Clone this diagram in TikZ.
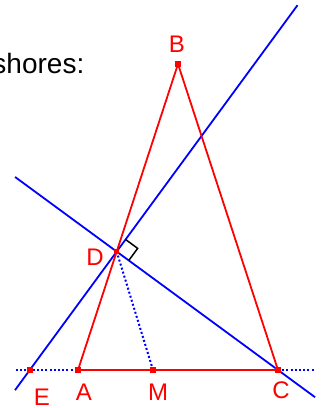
\documentclass[tikz,border=0pt]{standalone}
\usepackage{fontspec}
\setmainfont{Liberation Sans}
\usetikzlibrary{calc}
\definecolor{myred}{RGB}{255,0,0}
\definecolor{myblue}{RGB}{0,0,255}
\begin{document}
\begin{tikzpicture}[x=1pt,y=-1pt,
  seg/.style={myred,line width=1.8pt},
  bline/.style={myblue,line width=1.8pt},
  dots/.style={myblue,line width=2pt,dash pattern=on 2pt off 2.2pt},
  pt/.style={fill=myred,inner sep=0pt,minimum size=5.5pt,draw=none,rectangle},
  lab/.style={text=myred,inner sep=0pt,font=\fontsize{24}{28}\selectfont},
  ra/.style={black,line width=1.5pt}]
\useasboundingbox (0,0) rectangle (327,408);
\clip (0,0) rectangle (327,408);
\coordinate (A) at (78,370);
\coordinate (C) at (278,370);
\coordinate (B) at (178,64);
\coordinate (M) at (153,370);
\coordinate (D) at ($(A)!0.387!(B)$);
\coordinate (Dp) at ($(D)!1!90:(C)$);
\coordinate (E) at (intersection of D--Dp and A--C);
\coordinate (L1a) at ($(E)!-0.17!(D)$);
\coordinate (L1b) at ($(E)!3.08!(D)$);
\coordinate (L2a) at ($(D)!-0.63!(C)$);
\coordinate (L2b) at ($(D)!1.23!(C)$);
\coordinate (Wl) at (16,370);
\coordinate (Wr) at (315,370);
% text
\node[anchor=base east,inner sep=0pt,font=\fontsize{28}{32}\selectfont] (txt) at (84.5,73) {shores:};
% blue lines
\draw[bline] (L1a) -- (L1b);
\draw[bline] (L2a) -- (L2b);
% dotted
\draw[dots] (Wl) -- (A);
\draw[dots] (C) -- (Wr);
\draw[dots] (D) -- (M);
% triangle
\draw[seg] (A) -- (B) -- (C) -- cycle;
% right angle
\coordinate (R1) at ($(D)!15pt!(L1b)$);
\coordinate (R2) at ($(D)!15pt!(C)$);
\draw[ra] (R1) -- ($(R1)+(R2)-(D)$) -- (R2);
% points
\foreach \p in {A,B,C,D,E,M} \node[pt] (p\p) at (\p) {};
% labels
\node[lab] (lB) at (177,44) {B};
\node[lab] (lA) at (84,392) {A};
\node[lab] (lM) at (158,392) {M};
\node[lab] (lC) at (281,390) {C};
\node[lab] (lE) at (42,397) {E};
\node[lab] (lD) at (95,257) {D};
\end{tikzpicture}
\end{document}
